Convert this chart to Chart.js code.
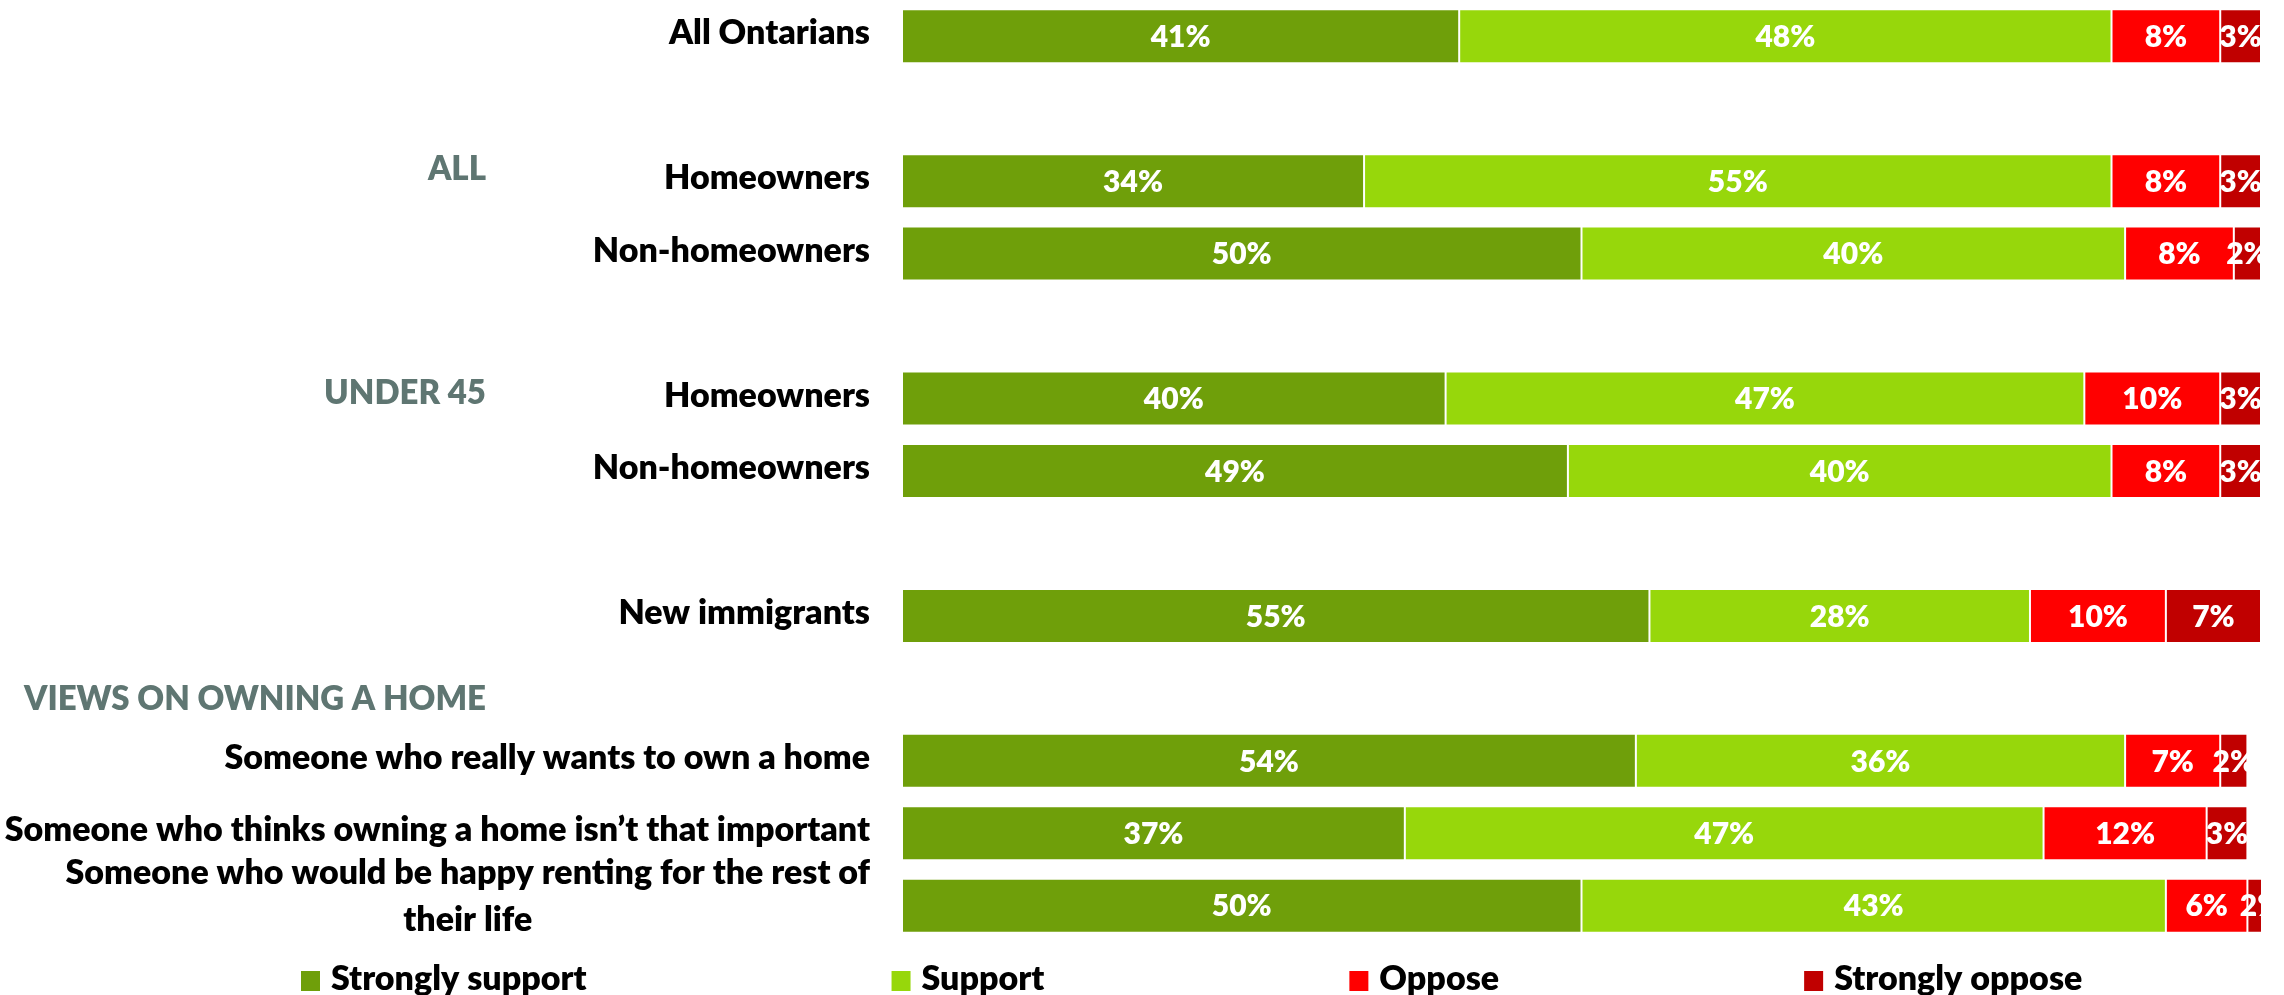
<!DOCTYPE html>
<html>
<head>
<meta charset="utf-8">
<script src="https://cdn.jsdelivr.net/npm/chart.js@4.4.1/dist/chart.umd.min.js"></script>
<style>
    html, body { margin: 0; padding: 0; background: #ffffff; }
    #grafico { display: block; }
</style>
</head>
<body>
<canvas id="grafico" width="2284" height="995"></canvas>
<script>
// Linhas do gráfico (as vazias separam os grupos)
const categorias = [
    'All Ontarians', '',
    'Homeowners', 'Non-homeowners', '',
    'Homeowners', 'Non-homeowners', '',
    'New immigrants', '',
    'Someone who really wants to own a home',
    'Someone who thinks owning a home isn\u2019t that important',
    ['Someone who would be happy renting for the rest of', 'their life']
];

// Percentuais por resposta
const apoioForte = [41, null, 34, 50, null, 40, 49, null, 55, null, 54, 37, 50];
const apoio = [48, null, 55, 40, null, 47, 40, null, 28, null, 36, 47, 43];
const oposicao = [8, null, 8, 8, null, 10, 8, null, 10, null, 7, 12, 6];
const oposicaoForte = [3, null, 3, 2, null, 3, 3, null, 7, null, 2, 3, 2];

const nomesSeries = ['Strongly support', 'Support', 'Oppose', 'Strongly oppose'];

// Títulos dos grupos e a linha a que pertencem
const gruposTexto = ['ALL', 'UNDER 45', 'VIEWS ON OWNING A HOME'];
const gruposLinha = [2, 5, 9];

const CORES = {
    apoioForte: '#6f9f0a',
    apoio: '#97d70b',
    oposicao: '#ff0000',
    oposicaoForte: '#c00000',
    grupo: '#5f7672',
    texto: '#000000'
};

const FONTE = 'Lato, "Open Sans", sans-serif';
const PESO = 800;

// Rótulos das linhas à esquerda e títulos dos grupos
const rotulosLinhas = {
    id: 'rotulosLinhas',
    afterDraw(chart) {
        const { ctx, chartArea, scales: { y } } = chart;
        ctx.save();
        ctx.textBaseline = 'middle';
        ctx.font = `${PESO} 34px ${FONTE}`;
        ctx.fillStyle = CORES.texto;
        const direita = chartArea.left - 32;
        const alturaLinha = 47;

        categorias.forEach((rotulo, i) => {
            if (!rotulo) return;
            const linhas = Array.isArray(rotulo) ? rotulo : [rotulo];
            const largura = Math.max(...linhas.map(l => ctx.measureText(l).width));
            const yc = y.getPixelForValue(i) - (linhas.length > 1 ? 9 : 3);
            const y0 = yc - (linhas.length - 1) * alturaLinha / 2;
            ctx.textAlign = 'center';
            linhas.forEach((l, k) => ctx.fillText(l, direita - largura / 2, y0 + k * alturaLinha));
        });

        // deslocamento vertical dos títulos em relação à linha
        const ajuste = [-12, -5, 11];
        ctx.font = `${PESO} 33px ${FONTE}`;
        ctx.fillStyle = CORES.grupo;
        ctx.textAlign = 'right';
        gruposTexto.forEach((texto, g) => {
            const yc = y.getPixelForValue(gruposLinha[g]) + ajuste[g];
            ctx.fillText(texto, 486, yc);
        });
        ctx.restore();
    }
};

// Valores dentro de cada segmento
const valoresBarras = {
    id: 'valoresBarras',
    afterDatasetsDraw(chart) {
        const { ctx, chartArea } = chart;
        ctx.save();
        ctx.beginPath();
        ctx.rect(chartArea.left, chartArea.top, chartArea.right - chartArea.left, chartArea.bottom - chartArea.top);
        ctx.clip();
        ctx.font = `${PESO} 30px ${FONTE}`;
        ctx.fillStyle = '#ffffff';
        ctx.textAlign = 'center';
        ctx.textBaseline = 'middle';
        chart.data.datasets.forEach((ds, di) => {
            const meta = chart.getDatasetMeta(di);
            meta.data.forEach((barra, i) => {
                const valor = ds.data[i];
                if (valor == null) return;
                ctx.fillText(valor + '%', (barra.x + barra.base) / 2, barra.y + 1);
            });
        });
        ctx.restore();
    }
};

// Legenda desenhada na base
const legendaBase = {
    id: 'legendaBase',
    afterDraw(chart) {
        const { ctx } = chart;
        ctx.save();
        ctx.font = `${PESO} 34px ${FONTE}`;
        ctx.textBaseline = 'middle';
        ctx.textAlign = 'left';
        const yc = chart.height - 14;
        let x = 301;
        chart.data.datasets.forEach(ds => {
            ctx.fillStyle = ds.backgroundColor;
            ctx.fillRect(x, yc - 10, 19, 20);
            ctx.fillStyle = CORES.texto;
            ctx.fillText(ds.label, x + 30, yc - 2);
            x += 30 + ctx.measureText(ds.label).width + 305;
        });
        ctx.restore();
    }
};

function serie(rotulo, dados, cor) {
    return {
        label: rotulo,
        data: dados,
        backgroundColor: cor,
        borderColor: 'rgba(255,255,255,0.22)',
        borderWidth: 1,
        borderSkipped: false,
        barPercentage: 0.745,
        categoryPercentage: 1
    };
}

function criarGrafico() {
    const ctx = document.getElementById('grafico').getContext('2d');
    return new Chart(ctx, {
        type: 'bar',
        data: {
            labels: categorias,
            datasets: [
                serie(nomesSeries[0], apoioForte, CORES.apoioForte),
                serie(nomesSeries[1], apoio, CORES.apoio),
                serie(nomesSeries[2], oposicao, CORES.oposicao),
                serie(nomesSeries[3], oposicaoForte, CORES.oposicaoForte)
            ]
        },
        options: {
            indexAxis: 'y',
            responsive: false,
            devicePixelRatio: 1,
            animation: false,
            layout: {
                padding: { left: 902, right: 23, top: -2, bottom: 53 }
            },
            plugins: {
                legend: { display: false },
                tooltip: { enabled: false }
            },
            scales: {
                x: { stacked: true, min: 0, max: 100, display: false },
                y: { stacked: true, display: false }
            }
        },
        plugins: [valoresBarras, rotulosLinhas, legendaBase]
    });
}

document.fonts.load(`${PESO} 34px Lato`).then(criarGrafico, criarGrafico);
</script>
</body>
</html>
